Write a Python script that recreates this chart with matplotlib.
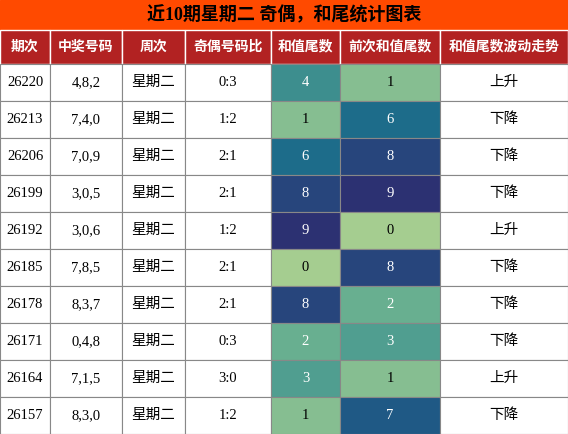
"""Table chart: 近10期星期二 奇偶，和尾统计图表."""

import matplotlib

matplotlib.use("Agg")
import matplotlib.pyplot as plt
import seaborn as sns
from matplotlib.patches import Rectangle

title = "近10期星期二 奇偶，和尾统计图表"
headers = ["期次", "中奖号码", "周次", "奇偶号码比", "和值尾数", "前次和值尾数", "和值尾数波动走势"]
periods = ["26220", "26213", "26206", "26199", "26192", "26185", "26178", "26171", "26164", "26157"]
numbers = ["4,8,2", "7,4,0", "7,0,9", "3,0,5", "3,0,6", "7,8,5", "8,3,7", "0,4,8", "7,1,5", "8,3,0"]
weekday = ["星期二"] * 10
ratios = ["0:3", "1:2", "2:1", "2:1", "1:2", "2:1", "2:1", "0:3", "3:0", "1:2"]
tails = [4, 1, 6, 8, 9, 0, 8, 2, 3, 1]
prev_tails = [1, 6, 8, 9, 0, 8, 2, 3, 1, 7]
trend = ["上升", "下降", "下降", "下降", "上升", "下降", "下降", "下降", "上升", "下降"]

col_edges = [0, 50, 122, 185, 271, 340, 440, 568]
title_h, head_h, row_h = 30, 34, 37
fam = ["Liberation Serif", "Noto Sans CJK SC"]
cmap = sns.color_palette("crest", as_cmap=True)

fig = plt.figure(figsize=(5.68, 4.34), dpi=100)
ax = fig.add_axes([0, 0, 1, 1])
ax.set_xlim(0, 568)
ax.set_ylim(434, 0)
ax.axis("off")

ax.add_patch(Rectangle((0, 0), 568, title_h, color="#ff4a00"))
ax.text(284, title_h / 2, title, ha="center", va="center", fontsize=13,
        fontweight="bold", family=fam, color="black")

for i, h in enumerate(headers):
    x0, x1 = col_edges[i], col_edges[i + 1]
    ax.add_patch(Rectangle((x0, title_h), x1 - x0, head_h, facecolor="#b22222",
                           edgecolor="white", lw=1))
    ax.text((x0 + x1) / 2, title_h + head_h / 2, h, ha="center", va="center",
            fontsize=10, fontweight="bold", family=fam, color="white")

for r in range(len(periods)):
    y0 = title_h + head_h + r * row_h
    cells = [periods[r], numbers[r], weekday[r], ratios[r],
             str(tails[r]), str(prev_tails[r]), trend[r]]
    for c, txt in enumerate(cells):
        x0, x1 = col_edges[c], col_edges[c + 1]
        face, tc = "white", "black"
        if c in (4, 5):
            v = tails[r] if c == 4 else prev_tails[r]
            face = cmap(v / 9)
            tc = "black" if v <= 1 else "white"
        ax.add_patch(Rectangle((x0, y0), x1 - x0, row_h, facecolor=face,
                               edgecolor="#888888", lw=0.8))
        ax.text((x0 + x1) / 2, y0 + row_h / 2, txt, ha="center", va="center",
                fontsize=10.5, family=fam, color=tc)

fig.savefig("out.png", dpi=100)
